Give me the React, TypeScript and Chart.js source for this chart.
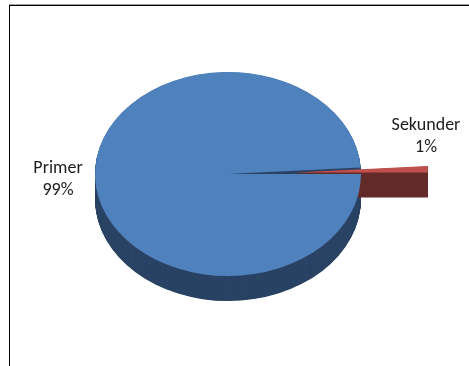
import React, { useEffect, useRef } from "react";
import { Chart, registerables } from "chart.js";

Chart.register(...registerables);

const categories = ["Primer", "Sekunder"];
const shares = [99, 1];
const percentLabels = ["99%", "1%"];
const topColors = ["#4F81BD", "#C0504D"];
const sideColors = ["#2A4365", "#632A28"];
const explodeBy = [0, 67];

const PIE_RADIUS = 133;
const TILT = 0.767;
const DEPTH = 25;
const FONT = "18px Carlito, Calibri, Lato, 'Open Sans', sans-serif";
const labelAnchors = [
  { x: 58, y: 168 },
  { x: 426, y: 125 },
];

// Pushes slices out along their bisector, without growing their radius.
const explodePlugin = {
  id: "explodeSlices",
  afterDatasetsUpdate(chart: any) {
    chart.getDatasetMeta(0).data.forEach((arc: any, i: number) => {
      const mid = (arc.startAngle + arc.endAngle) / 2;
      arc.x += Math.cos(mid) * explodeBy[i];
      arc.y += Math.sin(mid) * explodeBy[i];
    });
  },
};

// Tilts the pie into an ellipse and stacks darker copies underneath as its wall.
const tiltPlugin = {
  id: "tiltedPie",
  beforeDatasetsDraw(chart: any) {
    const { ctx, chartArea } = chart;
    const cy = (chartArea.top + chartArea.bottom) / 2;
    ctx.save();
    ctx.translate(0, cy);
    ctx.scale(1, TILT);
    ctx.translate(0, -cy);
    chart.getDatasetMeta(0).data.forEach((arc: any, i: number) => {
      const resolved = arc.options;
      arc.options = {
        backgroundColor: sideColors[i],
        borderColor: sideColors[i],
        borderWidth: 0,
        borderAlign: "center",
        borderRadius: 0,
        circular: true,
        offset: 0,
        spacing: 0,
      };
      for (let d = DEPTH; d > 0; d -= 0.5) {
        ctx.save();
        ctx.translate(0, d / TILT);
        arc.draw(ctx);
        ctx.restore();
      }
      arc.options = resolved;
    });
  },
  afterDatasetsDraw(chart: any) {
    const { ctx } = chart;
    ctx.restore();
    ctx.save();
    ctx.font = FONT;
    ctx.fillStyle = "#1c1c1c";
    ctx.textAlign = "center";
    ctx.textBaseline = "middle";
    categories.forEach((name, i) => {
      const at = labelAnchors[i];
      ctx.fillText(name, at.x, at.y);
      ctx.fillText(percentLabels[i], at.x, at.y + 22);
    });
    ctx.restore();
  },
};

export default function App() {
  const canvasRef = useRef<HTMLCanvasElement>(null);

  useEffect(() => {
    const chart = new Chart(canvasRef.current as HTMLCanvasElement, {
      type: "pie",
      data: {
        labels: categories,
        datasets: [
          {
            data: shares,
            backgroundColor: topColors,
            borderWidth: 0,
            clip: false,
          } as any,
        ],
      },
      options: {
        responsive: false,
        animation: false,
        devicePixelRatio: 1,
        rotation: 90,
        radius: PIE_RADIUS,
        layout: { padding: { left: 0, right: 13, top: 0, bottom: 18 } },
        plugins: { legend: { display: false }, tooltip: { enabled: false } },
      } as any,
      plugins: [explodePlugin, tiltPlugin],
    });
    return () => chart.destroy();
  }, []);

  return (
    <div style={{ position: "fixed", left: 0, top: 0, width: 469, height: 366, overflow: "hidden", background: "#fff" }}>
      <div style={{ position: "absolute", left: 9, top: 4, right: 0, height: 1, background: "#a0a0a0" }} />
      <div style={{ position: "absolute", left: 9, top: 5, right: 0, bottom: 0, borderTop: "1px solid #000", borderLeft: "1px solid #000" }} />
      <canvas ref={canvasRef} width={469} height={366} style={{ position: "absolute", left: 0, top: 0 }} />
    </div>
  );
}
